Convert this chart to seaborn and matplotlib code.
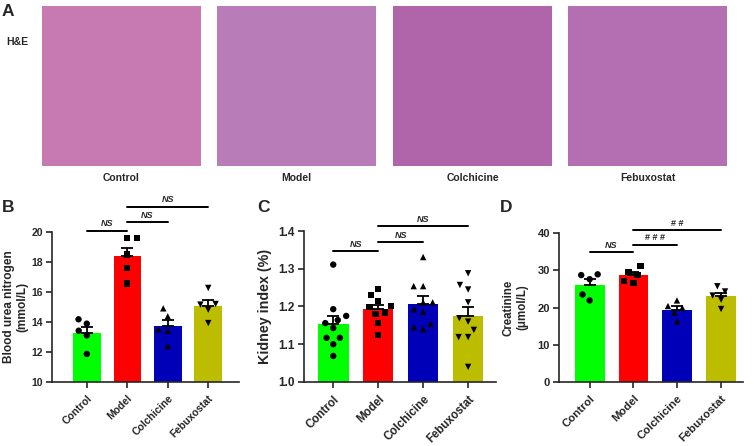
import numpy as np
import pandas as pd
import matplotlib
matplotlib.use("Agg")
import matplotlib.pyplot as plt
import matplotlib.ticker as mticker
import seaborn as sns

# ---------------- data ----------------
groups = ["Control", "Model", "Colchicine", "Febuxostat"]
colors = ["#00FF00", "#FF0000", "#0000B8", "#BDBD00"]
markers = ["o", "s", "^", "v"]

bun_control = [14.18, 13.89, 13.42, 13.11, 11.87]
bun_model = [19.60, 19.60, 18.49, 17.60, 16.56]
bun_colchicine = [14.91, 14.38, 13.51, 13.42, 12.40]
bun_febuxostat = [16.27, 15.20, 15.16, 14.82, 13.93]

ki_control = [1.311, 1.193, 1.175, 1.164, 1.156, 1.143, 1.117, 1.117, 1.100, 1.069]
ki_model = [1.246, 1.230, 1.215, 1.198, 1.202, 1.184, 1.180, 1.157, 1.124]
ki_colchicine = [1.331, 1.254, 1.254, 1.211, 1.211, 1.193, 1.186, 1.154, 1.145, 1.140]
ki_febuxostat = [1.288, 1.257, 1.245, 1.211, 1.160, 1.169, 1.138, 1.119, 1.119, 1.040]

cr_control = [28.9, 28.7, 27.6, 23.5, 21.9]
cr_model = [31.1, 29.5, 28.8, 27.1, 26.6]
cr_colchicine = [21.9, 20.4, 19.9, 18.6, 16.3]
cr_febuxostat = [25.7, 24.3, 23.2, 22.1, 19.6]

bun_ticks = [10, 12, 14, 16, 18, 20]
ki_ticks = [1.0, 1.1, 1.2, 1.3, 1.4]
cr_ticks = [0, 10, 20, 30, 40]

# comparisons: (group a, group b, label)
bun_sig = [("Control", "Model", "NS"), ("Model", "Colchicine", "NS"), ("Model", "Febuxostat", "NS")]
ki_sig = [("Control", "Model", "NS"), ("Model", "Colchicine", "NS"), ("Model", "Febuxostat", "NS")]
cr_sig = [("Control", "Model", "NS"), ("Model", "Colchicine", "# # #"), ("Model", "Febuxostat", "# #")]

image_colors = ["#C77AB2", "#B87CB8", "#B064AA", "#B46EB2"]

# ---------------- style ----------------
sns.set_theme(style="ticks")
plt.rcParams["font.family"] = ["Liberation Sans", "DejaVu Sans"]
plt.rcParams["font.weight"] = "bold"
plt.rcParams["axes.linewidth"] = 1.2

fig = plt.figure(figsize=(7.54, 4.46), dpi=100)
W, H = 754.0, 446.0
swarm_colls = []


def px_axes(x0, y0, x1, y1):
    return fig.add_axes([x0 / W, 1 - y1 / H, (x1 - x0) / W, (y1 - y0) / H])


# ---------------- panel A (image placeholders) ----------------
img_x = [42, 217, 393, 568]
for g, x0, c in zip(groups, img_x, image_colors):
    ax = px_axes(x0, 6, x0 + 159, 166)
    ax.set_facecolor(c)
    ax.set_xticks([])
    ax.set_yticks([])
    for s in ax.spines.values():
        s.set_visible(False)
    fig.text((x0 + 79.5) / W, 1 - 178 / H, g, ha="center", va="center",
             fontsize=7.5, fontweight="bold")

fig.text(2 / W, 1 - 12 / H, "A", ha="left", va="center", fontsize=12.5, fontweight="bold")
fig.text(6 / W, 1 - 42 / H, "H&E", ha="left", va="center", fontsize=7.5, fontweight="bold")


# ---------------- bar panels ----------------
def bar_panel(ax, series, ylim, yticks, ylabel, xlim, sig, sig_y,
              tick_fs, xlab_fs, ylab_fs, ylab_x):
    df = pd.DataFrame({
        "group": np.repeat(groups, [len(s) for s in series]),
        "value": np.concatenate(series),
    })
    sns.barplot(data=df, x="group", y="value", hue="group", order=groups,
                hue_order=groups, palette=colors, errorbar=None, width=0.68,
                legend=False, ax=ax, linewidth=0, saturation=1)
    means = np.array([np.mean(s) for s in series])
    sems = np.array([np.std(s, ddof=1) / np.sqrt(len(s)) for s in series])
    xs = np.arange(len(groups))
    for g, m, s in zip(groups, markers, series):
        n_before = len(ax.collections)
        sns.swarmplot(x=[g] * len(s), y=s, order=groups, marker=m, color="black",
                      size=6.5, ax=ax, zorder=3, warn_thresh=1)
        swarm_colls.extend(ax.collections[n_before:])
    ax.errorbar(xs, means, yerr=[np.zeros_like(sems), sems], fmt="none",
                ecolor="black", elinewidth=1.3, capsize=4.5, capthick=1.3, zorder=4)
    ax.set_ylim(*ylim)
    ax.set_yticks(yticks)
    ax.set_xlim(*xlim)
    ax.set_xlabel("")
    ax.set_ylabel(ylabel, fontsize=ylab_fs, fontweight="bold")
    ax.yaxis.set_label_coords(ylab_x, 0.5)
    ax.tick_params(axis="both", width=1.2, length=4.5, direction="out")
    ax.tick_params(axis="y", labelsize=tick_fs, pad=2)
    ax.set_xticks(xs)
    ax.set_xticklabels(groups, rotation=45, ha="right", rotation_mode="anchor",
                       fontweight="bold", fontsize=xlab_fs)
    for lab in ax.get_yticklabels():
        lab.set_fontweight("bold")
    sns.despine(ax=ax)
    for (a, b, lab), yv in zip(sig, sig_y):
        ia, ib = groups.index(a), groups.index(b)
        ax.plot([ia, ib], [yv, yv], color="black", lw=1.4, clip_on=False)
        style = "italic" if lab == "NS" else "normal"
        ax.annotate(lab, xy=((ia + ib) / 2, yv), xytext=(0, 1.5),
                    textcoords="offset points", ha="center", va="bottom",
                    fontsize=6.5, fontweight="bold", fontstyle=style,
                    annotation_clip=False)


axB = px_axes(52, 232, 239, 382)
bar_panel(axB, [bun_control, bun_model, bun_colchicine, bun_febuxostat],
          (10, 20), bun_ticks, "Blood urea nitrogen\n(mmol/L)", (-0.86, 3.76),
          bun_sig, [20.1, 20.65, 21.7], 7.5, 7.5, 8.6, -0.125)

axC = px_axes(304, 231, 496, 382)
bar_panel(axC, [ki_control, ki_model, ki_colchicine, ki_febuxostat],
          (1.0, 1.4), ki_ticks, "Kidney index (%)", (-0.65, 3.62),
          ki_sig, [1.347, 1.371, 1.412], 8.5, 8.3, 10.3, -0.165)
axC.yaxis.set_major_formatter(mticker.FormatStrFormatter("%.1f"))

axD = px_axes(559, 233, 743, 382)
bar_panel(axD, [cr_control, cr_model, cr_colchicine, cr_febuxostat],
          (0, 40), cr_ticks, "Creatinine\n(μmol/L)", (-0.70, 3.50),
          cr_sig, [34.8, 36.9, 40.9], 8, 8.2, 8.3, -0.165)

fig.text(2 / W, 1 - 208 / H, "B", ha="left", va="center", fontsize=12.5, fontweight="bold")
fig.text(257 / W, 1 - 208 / H, "C", ha="left", va="center", fontsize=12.5, fontweight="bold")
fig.text(500 / W, 1 - 208 / H, "D", ha="left", va="center", fontsize=12.5, fontweight="bold")

# fix the swarm layout computed with wide spacing, then shrink the markers
fig.canvas.draw()
for coll in swarm_colls:
    if "draw" in coll.__dict__:
        del coll.draw
    n = len(coll.get_offsets())
    if n:
        coll.set_sizes([4.6 ** 2] * n)

fig.savefig("out.png", dpi=100)
